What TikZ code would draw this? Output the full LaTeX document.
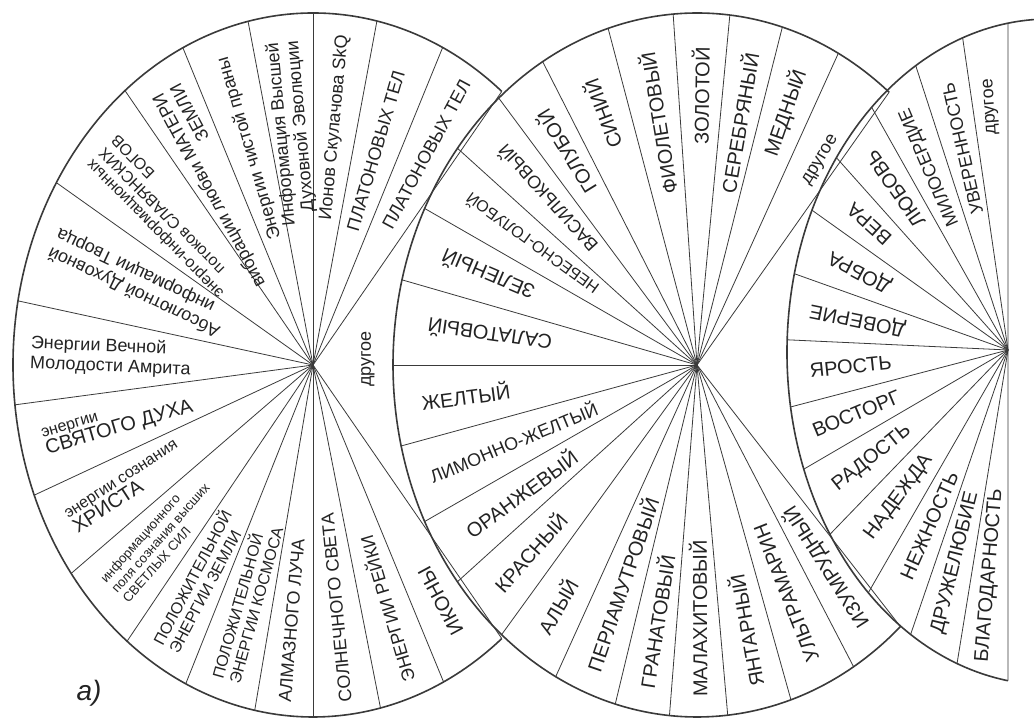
\documentclass[tikz,border=0pt]{standalone}
\usepackage{fontspec}
\setmainfont{Liberation Sans}
\usetikzlibrary{calc}
\definecolor{fanink}{HTML}{232323}
\definecolor{fanline}{HTML}{3A3A3A}
\newcommand{\lblbig}{\fontsize{10}{11}\selectfont}
\newcommand{\lblmid}{\fontsize{9}{10}\selectfont}
\newcommand{\lblsmall}{\fontsize{8}{8.8}\selectfont}
\newcommand{\lbltiny}{\fontsize{6.6}{7.4}\selectfont}
\tikzset{
  rim/.style={draw=fanline,line width=0.8pt},
  spoke/.style={draw=fanline,line width=0.4pt},
  outlbl/.style={anchor=east,align=right,inner sep=1pt,text=fanink},
  inlbl/.style={anchor=west,align=left,inner sep=1pt,text=fanink},
}
\begin{document}
\begin{tikzpicture}[x=0.5pt,y=0.5pt]
\useasboundingbox (0,0) rectangle (1034,719);
\fill[white] (0,0) rectangle (1034,719);
\clip (0,0) rectangle (1034,719);

% left fan
\coordinate (c1) at (313,354);
\foreach \th [count=\i] in {51,64.4,77.7,90,102.5,115.7,128.8,148.8,169.5,186.5,201.7,216.3,231.7,244.9,258.8,270,283,295.8,309}
  \coordinate (l\i) at ($(c1)+({300*cos(\th)},{352*sin(\th)})$);
\draw[rim] (l1) arc[start angle=51,end angle=309,x radius=150pt,y radius=176pt];
\foreach \i in {1,...,19}
  \draw[spoke] (c1) -- (l\i);
\foreach \th/\rr/\fnt/\txt [count=\i] in {
    57.7/0.96/\lblmid/{ПЛАТОНОВЫХ ТЕЛ},
    71/0.89/\lblmid/{ПЛАТОНОВЫХ ТЕЛ},
    83.9/0.95/\lblmid/{Ионов Скулачова SkQ},
    96.2/0.93/\lblmid/{Информация Высшей\\Духовной Эволюции},
    109/0.93/\lblmid/{Энергии чистой праны},
    122.2/0.93/\lblmid/{вибрации любви МАТЕРИ\\ЗЕМЛИ},
    139.2/0.94/\lblsmall/{энерго-информационных\\потоков СЛАВЯНСКИХ\\БОГОВ},
    158/0.94/\lblmid/{Абсолютной Духовной\\информации Творца},
    178/0.95/\lblmid/{Энергии Вечной\\Молодости Амрита},
    194/0.93/\lblsmall/{энергии\\\lblbig СВЯТОГО ДУХА},
    209/0.93/\lblsmall/{энергии сознания\\\lblbig ХРИСТА},
    224/0.93/\lbltiny/{информационного\\поля сознания высших\\СВЕТЛЫХ СИЛ},
    238.3/0.95/\lblsmall/{ПОЛОЖИТЕЛЬНОЙ\\ЭНЕРГИИ ЗЕМЛИ},
    251.8/0.95/\lblsmall/{ПОЛОЖИТЕЛЬНОЙ\\ЭНЕРГИИ КОСМОСА},
    264.4/0.97/\lblmid/{АЛМАЗНОГО ЛУЧА},
    276.5/0.97/\lblmid/{СОЛНЕЧНОГО СВЕТА},
    289.4/0.96/\lblmid/{ЭНЕРГИИ РЕЙКИ},
    302.4/0.91/\lblbig/{ИКОНЫ}}{
  \pgfmathsetmacro{\rot}{atan2(352*sin(\th),300*cos(\th))+(\th>175)*180}
  \pgfmathsetmacro{\lx}{313+300*\rr*cos(\th)}
  \pgfmathsetmacro{\ly}{354+352*\rr*sin(\th)}
  \ifdim\th pt>175pt
    \node[inlbl,font=\fnt,rotate=\rot] (lt\i) at (\lx,\ly) {\txt};
  \else
    \node[outlbl,font=\fnt,rotate=\rot] (lt\i) at (\lx,\ly) {\txt};
  \fi
}
\node[rotate=90,text=fanink,font=\lblmid] (ltother) at (368,360) {другое};

% middle fan
\coordinate (c2) at (697,354);
\foreach \th [count=\i] in {50.8,62.3,73.7,83.8,94.5,107,120.5,130.7,142,153.6,166,180,193.3,206.4,218,230,242.3,254.4,264.8,275.8,288,301,312}
  \coordinate (m\i) at ($(c2)+({304*cos(\th)},{352*sin(\th)})$);
\draw[rim] (m1) arc[start angle=50.8,end angle=312,x radius=152pt,y radius=176pt];
\foreach \i in {1,...,23}
  \draw[spoke] (c2) -- (m\i);
\foreach \th/\rr/\fnt/\txt [count=\i] in {
    55/0.80/\lblmid/другое,
    68/0.91/\lblbig/МЕДНЫЙ, 78.7/0.91/\lblbig/СЕРЕБРЯНЫЙ, 89.2/0.91/\lblbig/ЗОЛОТОЙ,
    100.7/0.91/\lblbig/ФИОЛЕТОВЫЙ, 113.7/0.89/\lblbig/СИНИЙ, 125.6/0.89/\lblbig/ГОЛУБОЙ,
    136.3/0.9/\lblmid/ВАСИЛЬКОВЫЙ, 147.8/0.9/\lblsmall/НЕБЕСНО-ГОЛУБОЙ,
    159.8/0.9/\lblbig/ЗЕЛЕНЫЙ, 173/0.9/\lblbig/САЛАТОВЫЙ, 186.6/0.92/\lblbig/ЖЕЛТЫЙ,
    199.8/0.94/\lblmid/ЛИМОННО-ЖЕЛТЫЙ, 212.2/0.9/\lblbig/ОРАНЖЕВЫЙ,
    224/0.92/\lblbig/КРАСНЫЙ, 236.1/0.92/\lblbig/АЛЫЙ, 248.3/0.94/\lblbig/ПЕРЛАМУТРОВЫЙ,
    259.6/0.94/\lblbig/ГРАНАТОВЫЙ, 270.3/0.95/\lblbig/МАЛАХИТОВЫЙ, 281.9/0.94/\lblbig/ЯНТАРНЫЙ,
    294.5/0.93/\lblbig/УЛЬТРАМАРИН, 306.5/0.93/\lblbig/ИЗУМРУДНЫЙ}{
  \pgfmathsetmacro{\rot}{atan2(352*sin(\th),304*cos(\th))+(\th>175)*180}
  \pgfmathsetmacro{\lx}{697+304*\rr*cos(\th)}
  \pgfmathsetmacro{\ly}{354+352*\rr*sin(\th)}
  \ifdim\th pt>175pt
    \node[inlbl,font=\fnt,rotate=\rot] (mt\i) at (\lx,\ly) {\txt};
  \else
    \node[outlbl,font=\fnt,rotate=\rot] (mt\i) at (\lx,\ly) {\txt};
  \fi
}

% right fan
\coordinate (c3) at (1008,369);
\coordinate (e3) at (1050,367);
\foreach \ps [count=\i] in {99.2,109.4,120.7,132.7,144.3,154.8,166.4,177.9,189.5,200.6,213.2,226.3,238,249.3,260.8}
  \coordinate (r\i) at ($(e3)+({263*cos(\ps)},{333*sin(\ps)})$);
\coordinate (rtop) at ($(e3)+({263*cos(84)},{333*sin(84)})$);
\draw[rim] (rtop) arc[start angle=84,end angle=260.8,x radius=131.5pt,y radius=166.5pt];
\foreach \i in {1,...,15}
  \draw[spoke] (c3) -- (r\i);
\foreach \th/\rr/\fnt/\txt [count=\i] in {
    96/0.82/\lblmid/другое, 108.9/0.85/\lblmid/УВЕРЕННОСТЬ,
    122.9/0.865/\lblmid/МИЛОСЕРДИЕ, 136.6/0.865/\lblbig/ЛЮБОВЬ, 149/0.84/\lblbig/ВЕРА,
    160.6/0.86/\lblbig/ДОБРА, 172.3/0.91/\lblbig/ДОВЕРИЕ, 184/0.905/\lblbig/ЯРОСТЬ,
    195.5/0.92/\lblbig/ВОСТОРГ, 207.8/0.89/\lblbig/РАДОСТЬ, 221.8/0.85/\lblbig/НАДЕЖДА,
    236/0.83/\lblbig/НЕЖНОСТЬ, 249.5/0.91/\lblbig/ДРУЖЕЛЮБИЕ, 263/0.945/\lblbig/БЛАГОДАРНОСТЬ}{
  \pgfmathsetmacro{\rot}{atan2(335*sin(\th),222*cos(\th))+(\th>175)*180}
  \pgfmathsetmacro{\lx}{1008+222*\rr*cos(\th)}
  \pgfmathsetmacro{\ly}{369+335*\rr*sin(\th)}
  \ifdim\th pt>175pt
    \node[inlbl,font=\fnt,rotate=\rot] (rt\i) at (\lx,\ly) {\txt};
  \else
    \node[outlbl,font=\fnt,rotate=\rot] (rt\i) at (\lx,\ly) {\txt};
  \fi
}

\node[text=fanink,font=\fontsize{14}{14}\selectfont\itshape] (tag) at (89,26) {а)};
\end{tikzpicture}
\end{document}
